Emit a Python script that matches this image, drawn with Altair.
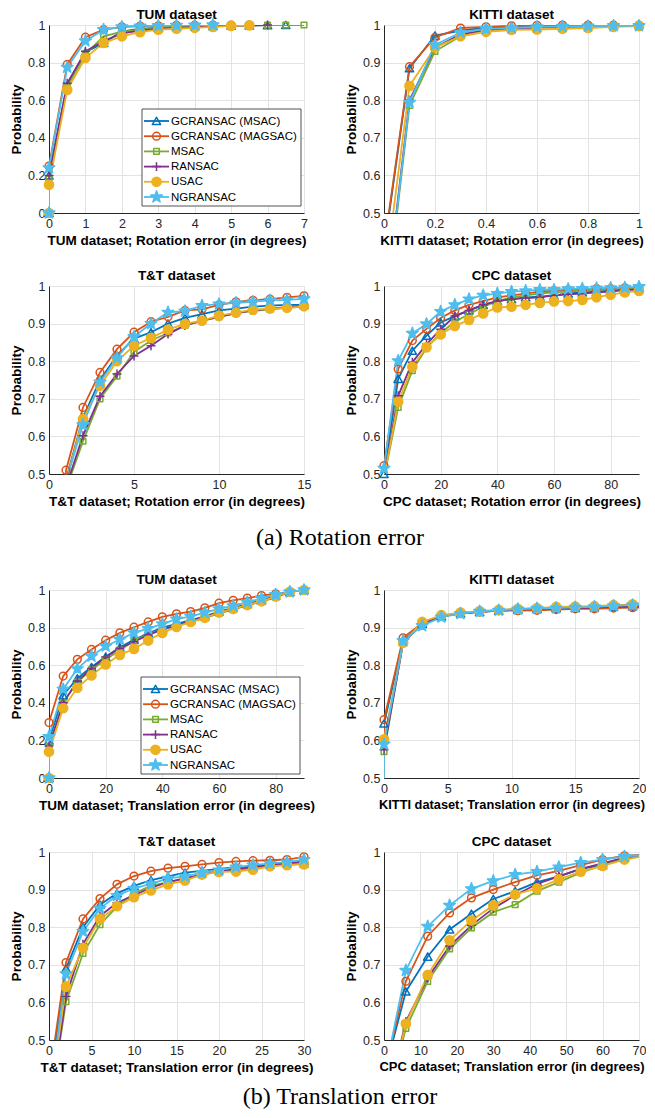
import math
import altair as alt
import pandas as pd

METHODS = ["GCRANSAC (MSAC)", "GCRANSAC (MAGSAC)", "MSAC", "RANSAC", "USAC", "NGRANSAC"]
COLORS = ["#0072BD", "#D95319", "#77AC30", "#7E2F8E", "#EDB120", "#4DBEEE"]
FILLS = ["transparent", "transparent", "transparent", "transparent", "#EDB120", "#4DBEEE"]

# ---------------- data ----------------
TUM_ROT_X = [0, 0, 0.5, 1, 1.5, 2, 2.5, 3, 3.5, 4, 4.5, 5, 5.5, 6, 6.5, 7]
TUM_ROT_GCMSAC = [0, 0.20, 0.68, 0.855, 0.905, 0.965, 0.98, 0.985, 0.99, 0.993, 0.995, 0.997, 0.998, 0.999, 1.0, None]
TUM_ROT_GCMAG = [0, 0.25, 0.79, 0.935, 0.975, 0.99, 0.994, 0.996, 0.998, 0.999, 1.0, 1.0, 1.0, None, None, None]
TUM_ROT_MSAC = [0, 0.18, 0.67, 0.845, 0.94, 0.965, 0.975, 0.985, 0.99, 0.993, 0.995, 0.997, 0.998, 0.999, 1.0, 1.0]
TUM_ROT_RANSAC = [0, 0.20, 0.69, 0.86, 0.915, 0.955, 0.97, 0.98, 0.985, 0.99, 0.993, 0.996, 0.998, 1.0, None, None]
TUM_ROT_USAC = [0, 0.15, 0.655, 0.825, 0.905, 0.94, 0.962, 0.975, 0.98, 0.985, 0.99, 0.995, 0.998, None, None, None]
TUM_ROT_NG = [0, 0.24, 0.775, 0.915, 0.975, 0.99, 0.994, 0.996, 0.998, 0.999, 1.0, None, None, None, None, None]

KITTI_ROT_X = [0, 0.1, 0.2, 0.3, 0.4, 0.5, 0.6, 0.7, 0.8, 0.9, 1.0]
KITTI_ROT_GCMSAC = [0.40, 0.885, 0.972, 0.985, 0.993, 0.996, 0.998, 0.999, 1.0, 1.0, 1.0]
KITTI_ROT_GCMAG = [0.41, 0.889, 0.967, 0.992, 0.995, 0.998, 0.999, 1.0, 1.0, 1.0, 1.0]
KITTI_ROT_MSAC = [0.20, 0.786, 0.93, 0.97, 0.985, 0.99, 0.993, 0.995, 0.996, 0.997, 0.998]
KITTI_ROT_RANSAC = [0.22, 0.80, 0.94, 0.975, 0.987, 0.99, 0.993, 0.995, 0.996, 0.997, 0.998]
KITTI_ROT_USAC = [0.31, 0.838, 0.94, 0.97, 0.982, 0.987, 0.988, 0.99, 0.992, 0.995, 0.997]
KITTI_ROT_NG = [0.21, 0.794, 0.947, 0.98, 0.99, 0.992, 0.995, 0.996, 0.997, 0.998, 0.998]

TT_ROT_X = [0, 1, 2, 3, 4, 5, 6, 7, 8, 9, 10, 11, 12, 13, 14, 15]
TT_ROT_GCMSAC = [0, 0.485, 0.65, 0.75, 0.815, 0.86, 0.877, 0.90, 0.915, 0.925, 0.935, 0.94, 0.945, 0.948, 0.95, 0.95]
TT_ROT_GCMAG = [0, 0.51, 0.677, 0.77, 0.832, 0.877, 0.905, 0.918, 0.935, 0.938, 0.95, 0.958, 0.962, 0.965, 0.97, 0.974]
TT_ROT_MSAC = [0, 0.46, 0.587, 0.70, 0.76, 0.825, 0.855, 0.875, 0.895, 0.907, 0.918, 0.928, 0.934, 0.938, 0.942, 0.945]
TT_ROT_RANSAC = [0, 0.465, 0.602, 0.707, 0.766, 0.814, 0.841, 0.872, 0.895, 0.908, 0.918, 0.928, 0.935, 0.94, 0.944, 0.947]
TT_ROT_USAC = [0, 0.48, 0.646, 0.735, 0.80, 0.841, 0.862, 0.884, 0.899, 0.908, 0.921, 0.929, 0.937, 0.94, 0.942, 0.946]
TT_ROT_NG = [0, 0.48, 0.631, 0.744, 0.809, 0.865, 0.90, 0.93, 0.933, 0.948, 0.952, 0.955, 0.958, 0.962, 0.963, 0.966]

CPC_ROT_X = [0, 5, 10, 15, 20, 25, 30, 35, 40, 45, 50, 55, 60, 65, 70, 75, 80, 85, 90]
CPC_ROT_GCMSAC = [0.50, 0.753, 0.828, 0.868, 0.903, 0.92, 0.935, 0.95, 0.96, 0.965, 0.97, 0.972, 0.975, 0.98, 0.983, 0.985, 0.988, 0.99, 0.993]
CPC_ROT_GCMAG = [0.522, 0.779, 0.855, 0.886, 0.915, 0.935, 0.95, 0.96, 0.97, 0.975, 0.98, 0.985, 0.988, 0.99, 0.99, 0.993, 0.993, 0.995, 0.995]
CPC_ROT_MSAC = [0.49, 0.677, 0.775, 0.835, 0.875, 0.905, 0.925, 0.945, 0.96, 0.97, 0.975, 0.98, 0.983, 0.985, 0.988, 0.99, 0.992, 0.994, 0.995]
CPC_ROT_RANSAC = [0.49, 0.708, 0.797, 0.845, 0.885, 0.92, 0.935, 0.95, 0.96, 0.965, 0.968, 0.97, 0.975, 0.978, 0.98, 0.983, 0.985, 0.99, 0.99]
CPC_ROT_USAC = [0.49, 0.692, 0.785, 0.837, 0.871, 0.894, 0.91, 0.927, 0.943, 0.945, 0.95, 0.955, 0.959, 0.96, 0.963, 0.97, 0.977, 0.983, 0.987]
CPC_ROT_NG = [0.515, 0.801, 0.874, 0.899, 0.932, 0.95, 0.965, 0.975, 0.98, 0.985, 0.987, 0.99, 0.99, 0.992, 0.993, 0.994, 0.995, 0.996, 0.998]

TUM_TR_X = [0, 0, 5, 10, 15, 20, 25, 30, 35, 40, 45, 50, 55, 60, 65, 70, 75, 80, 85, 90]
TUM_TR_GCMSAC = [0, 0.20, 0.44, 0.53, 0.59, 0.645, 0.695, 0.735, 0.77, 0.80, 0.82, 0.84, 0.86, 0.885, 0.905, 0.925, 0.945, 0.97, 0.99, 1.0]
TUM_TR_GCMAG = [0, 0.295, 0.542, 0.631, 0.684, 0.733, 0.772, 0.802, 0.83, 0.857, 0.873, 0.885, 0.905, 0.93, 0.945, 0.957, 0.97, 0.98, 0.99, 1.0]
TUM_TR_MSAC = [0, 0.17, 0.40, 0.51, 0.575, 0.63, 0.68, 0.73, 0.765, 0.79, 0.81, 0.83, 0.85, 0.875, 0.895, 0.92, 0.94, 0.96, 0.99, 1.0]
TUM_TR_RANSAC = [0, 0.17, 0.40, 0.516, 0.583, 0.643, 0.69, 0.725, 0.76, 0.79, 0.81, 0.835, 0.855, 0.88, 0.90, 0.92, 0.94, 0.965, 0.99, 1.0]
TUM_TR_USAC = [0, 0.14, 0.371, 0.48, 0.546, 0.604, 0.655, 0.687, 0.731, 0.772, 0.804, 0.83, 0.852, 0.88, 0.90, 0.92, 0.94, 0.965, 0.99, 1.0]
TUM_TR_NG = [0, 0.22, 0.472, 0.581, 0.648, 0.701, 0.737, 0.772, 0.795, 0.82, 0.845, 0.86, 0.88, 0.90, 0.915, 0.935, 0.955, 0.975, 0.99, 1.0]

KITTI_TR_X = [0, 0, 1.5, 3, 4.5, 6, 7.5, 9, 10.5, 12, 13.5, 15, 16.5, 18, 19.5, 21]
KITTI_TR_GCMSAC = [0, 0.645, 0.865, 0.91, 0.93, 0.938, 0.942, 0.945, 0.948, 0.95, 0.952, 0.953, 0.954, 0.956, 0.957, 0.958]
KITTI_TR_GCMAG = [0, 0.655, 0.873, 0.912, 0.93, 0.937, 0.942, 0.945, 0.945, 0.946, 0.948, 0.95, 0.95, 0.952, 0.953, 0.954]
KITTI_TR_MSAC = [0, 0.57, 0.86, 0.91, 0.93, 0.938, 0.943, 0.946, 0.949, 0.951, 0.953, 0.955, 0.956, 0.958, 0.96, 0.961]
KITTI_TR_RANSAC = [0, 0.575, 0.86, 0.91, 0.93, 0.938, 0.942, 0.945, 0.948, 0.95, 0.951, 0.952, 0.953, 0.955, 0.956, 0.957]
KITTI_TR_USAC = [0, 0.603, 0.86, 0.915, 0.933, 0.94, 0.944, 0.947, 0.95, 0.952, 0.955, 0.956, 0.957, 0.96, 0.962, 0.963]
KITTI_TR_NG = [0, 0.59, 0.865, 0.905, 0.928, 0.937, 0.943, 0.946, 0.949, 0.951, 0.952, 0.954, 0.955, 0.958, 0.96, 0.961]

TT_TR_X = [0, 2, 4, 6, 8, 10, 12, 14, 16, 18, 20, 22, 24, 26, 28, 30]
TT_TR_GCMSAC = [0.36, 0.69, 0.80, 0.86, 0.89, 0.91, 0.925, 0.935, 0.945, 0.95, 0.955, 0.96, 0.962, 0.967, 0.97, 0.97]
TT_TR_GCMAG = [0.39, 0.706, 0.822, 0.876, 0.914, 0.936, 0.949, 0.957, 0.962, 0.967, 0.972, 0.975, 0.977, 0.978, 0.98, 0.987]
TT_TR_MSAC = [0.305, 0.602, 0.73, 0.807, 0.855, 0.89, 0.91, 0.92, 0.93, 0.94, 0.948, 0.952, 0.957, 0.962, 0.967, 0.972]
TT_TR_RANSAC = [0.31, 0.616, 0.755, 0.83, 0.865, 0.885, 0.905, 0.92, 0.93, 0.94, 0.95, 0.955, 0.96, 0.965, 0.97, 0.975]
TT_TR_USAC = [0.33, 0.642, 0.745, 0.822, 0.856, 0.88, 0.898, 0.914, 0.924, 0.94, 0.947, 0.948, 0.953, 0.962, 0.965, 0.967]
TT_TR_NG = [0.34, 0.676, 0.789, 0.85, 0.884, 0.903, 0.915, 0.93, 0.935, 0.945, 0.952, 0.96, 0.965, 0.97, 0.973, 0.98]

CPC_TR_X = [0, 6, 12, 18, 24, 30, 36, 42, 48, 54, 60, 66, 72]
CPC_TR_GCMSAC = [0.408, 0.629, 0.722, 0.794, 0.836, 0.875, 0.896, 0.92, 0.935, 0.955, 0.965, 0.985, 0.99]
CPC_TR_GCMAG = [0.405, 0.656, 0.776, 0.838, 0.878, 0.90, 0.92, 0.938, 0.95, 0.965, 0.98, 0.99, 0.993]
CPC_TR_MSAC = [0.30, 0.531, 0.656, 0.742, 0.798, 0.84, 0.86, 0.896, 0.92, 0.945, 0.965, 0.985, 0.99]
CPC_TR_RANSAC = [0.305, 0.549, 0.665, 0.75, 0.805, 0.85, 0.885, 0.915, 0.935, 0.955, 0.97, 0.985, 0.99]
CPC_TR_USAC = [0.30, 0.543, 0.673, 0.765, 0.818, 0.858, 0.887, 0.903, 0.927, 0.948, 0.963, 0.98, 0.99]
CPC_TR_NG = [0.40, 0.685, 0.802, 0.858, 0.902, 0.923, 0.94, 0.948, 0.96, 0.972, 0.98, 0.988, 0.993]

CAPTION_A = "(a) Rotation error"
CAPTION_B = "(b) Translation error"

# ---------------- styling helpers ----------------
FONT = "Liberation Sans"


def star_path(ro, ri):
    pts = []
    for k in range(10):
        a = -math.pi / 2 + k * math.pi / 5
        r = ro if k % 2 == 0 else ri
        pts.append(f"{r * math.cos(a):.3f},{r * math.sin(a):.3f}")
    return "M" + "L".join(pts) + "Z"


PLUS = "M-1,0L1,0M0,-1L0,1"
MARKERS = [("triangle-up", 70), ("circle", 60), ("square", 32), (PLUS, 80),
           ("circle", 85), (star_path(1, 0.4), 150)]
ONE = pd.DataFrame({"k": [0]})


def make_df(xs, series):
    rows = []
    for m, ys in zip(METHODS, series):
        for i, (xv, yv) in enumerate(zip(xs, ys)):
            if yv is None:
                continue
            rows.append({"method": m, "idx": i, "x": xv, "y": yv})
    return pd.DataFrame(rows)


def legend_layers(lx, ly):
    out = [alt.Chart(ONE).mark_rect(fill="white", stroke="#262626", strokeWidth=0.8).encode(
        x=alt.value(lx), x2=alt.value(lx + 159), y=alt.value(ly), y2=alt.value(ly + 97))]
    for i, (m, c, f, (shp, sz)) in enumerate(zip(METHODS, COLORS, FILLS, MARKERS)):
        yr = ly + 12 + i * 15.2
        out.append(alt.Chart(ONE).mark_rule(color=c, strokeWidth=1.8).encode(
            x=alt.value(lx + 2), x2=alt.value(lx + 27), y=alt.value(yr)))
        out.append(alt.Chart(ONE).mark_point(shape=shp, size=sz, stroke=c, fill=f, strokeJoin="round",
                                             strokeWidth=1.5, opacity=1).encode(
            x=alt.value(lx + 14.5), y=alt.value(yr)))
        out.append(alt.Chart(ONE).mark_text(align="left", baseline="middle", font=FONT,
                                            fontSize=11.5, color="#000000").encode(
            x=alt.value(lx + 29), y=alt.value(yr + 0.5), text=alt.value(m)))
    return out


def panel(title, xtitle, xs, series, xdom, xticks, xfmt, ydom, yticks, legend_pos=None, xt_size=13.5):
    df = make_df(xs, series)
    base = alt.Chart(df)
    x = alt.X("x:Q", scale=alt.Scale(domain=xdom, nice=False, zero=False),
              axis=alt.Axis(values=xticks, format=xfmt, title=xtitle, titleFontSize=xt_size))
    y = alt.Y("y:Q", scale=alt.Scale(domain=ydom, nice=False, zero=False),
              axis=alt.Axis(values=yticks, format=".1~f", title="Probability"))
    lines = base.mark_line(strokeWidth=1.8, clip=True).encode(
        x=x, y=y,
        color=alt.Color("method:N", scale=alt.Scale(domain=METHODS, range=COLORS), legend=None),
        order=alt.Order("idx:Q"),
    )
    layers = [lines]
    for m, c, f, (shp, sz) in zip(METHODS, COLORS, FILLS, MARKERS):
        pts = base.transform_filter(
            (alt.datum.method == m) & (alt.datum.y >= ydom[0]) & (alt.datum.x <= xdom[1])
        ).mark_point(shape=shp, size=sz, stroke=c, fill=f, strokeWidth=1.5, strokeJoin="round",
                     opacity=1).encode(x=x, y=y)
        layers.append(pts)
    if legend_pos is not None:
        layers += legend_layers(*legend_pos)
    layers.append(alt.Chart(ONE).mark_text(
        font=FONT, fontSize=13.5, fontWeight="bold", color="#000000", align="center", baseline="alphabetic"
    ).encode(x=alt.value(127.5), y=alt.value(-6), text=alt.value(title)))
    return alt.layer(*layers).properties(width=255, height=188)


def spacer(h):
    return alt.Chart(ONE).mark_text().encode(text=alt.value("")).properties(width=255, height=h)


def caption(txt, h, yv):
    return alt.Chart(ONE).mark_text(
        font="Liberation Serif", fontSize=24, color="black", align="center", baseline="middle"
    ).encode(text=alt.value(txt), x=alt.value(291), y=alt.value(yv)).properties(width=255, height=h)


Y01 = [0, 0.2, 0.4, 0.6, 0.8, 1]
Y51 = [0.5, 0.6, 0.7, 0.8, 0.9, 1]

p1 = panel("TUM dataset", "TUM dataset; Rotation error (in degrees)", TUM_ROT_X,
           [TUM_ROT_GCMSAC, TUM_ROT_GCMAG, TUM_ROT_MSAC, TUM_ROT_RANSAC, TUM_ROT_USAC, TUM_ROT_NG],
           [0, 7], list(range(8)), "d", [0, 1], Y01, legend_pos=(93, 84))
p2 = panel("KITTI dataset", "KITTI dataset; Rotation error (in degrees)", KITTI_ROT_X,
           [KITTI_ROT_GCMSAC, KITTI_ROT_GCMAG, KITTI_ROT_MSAC, KITTI_ROT_RANSAC, KITTI_ROT_USAC, KITTI_ROT_NG],
           [0, 1], [0, 0.2, 0.4, 0.6, 0.8, 1], ".1~f", [0.5, 1], Y51)
p3 = panel("T&T dataset", "T&T dataset; Rotation error (in degrees)", TT_ROT_X,
           [TT_ROT_GCMSAC, TT_ROT_GCMAG, TT_ROT_MSAC, TT_ROT_RANSAC, TT_ROT_USAC, TT_ROT_NG],
           [0, 15], [0, 5, 10, 15], "d", [0.5, 1], Y51)
p4 = panel("CPC dataset", "CPC dataset; Rotation error (in degrees)", CPC_ROT_X,
           [CPC_ROT_GCMSAC, CPC_ROT_GCMAG, CPC_ROT_MSAC, CPC_ROT_RANSAC, CPC_ROT_USAC, CPC_ROT_NG],
           [0, 90], [0, 20, 40, 60, 80], "d", [0.5, 1], Y51)
p5 = panel("TUM dataset", "TUM dataset; Translation error (in degrees)", TUM_TR_X,
           [TUM_TR_GCMSAC, TUM_TR_GCMAG, TUM_TR_MSAC, TUM_TR_RANSAC, TUM_TR_USAC, TUM_TR_NG],
           [0, 90], [0, 20, 40, 60, 80], "d", [0, 1], Y01, legend_pos=(92, 87))
p6 = panel("KITTI dataset", "KITTI dataset; Translation error (in degrees)", KITTI_TR_X,
           [KITTI_TR_GCMSAC, KITTI_TR_GCMAG, KITTI_TR_MSAC, KITTI_TR_RANSAC, KITTI_TR_USAC, KITTI_TR_NG],
           [0, 20], [0, 5, 10, 15, 20], "d", [0.5, 1], Y51, xt_size=12.8)
p7 = panel("T&T dataset", "T&T dataset; Translation error (in degrees)", TT_TR_X,
           [TT_TR_GCMSAC, TT_TR_GCMAG, TT_TR_MSAC, TT_TR_RANSAC, TT_TR_USAC, TT_TR_NG],
           [0, 30], [0, 5, 10, 15, 20, 25, 30], "d", [0.5, 1], Y51)
p8 = panel("CPC dataset", "CPC dataset; Translation error (in degrees)", CPC_TR_X,
           [CPC_TR_GCMSAC, CPC_TR_GCMAG, CPC_TR_MSAC, CPC_TR_RANSAC, CPC_TR_USAC, CPC_TR_NG],
           [0, 70], [0, 10, 20, 30, 40, 50, 60, 70], "d", [0.5, 1], Y51, xt_size=13)

items = [
    p1, p2,
    spacer(33), spacer(33),
    p3, p4,
    caption(CAPTION_A, 76, 44), spacer(76),
    p5, p6,
    spacer(34), spacer(34),
    p7, p8,
    caption(CAPTION_B, 30, 37), spacer(30),
]

chart = alt.concat(
    *items, columns=2, spacing={"row": 20, "column": 80}, bounds="flush", align="each"
).resolve_scale(
    color="independent"
).properties(
    padding={"left": 1, "top": 0, "right": 0, "bottom": 0}
).configure_axis(
    labelFont=FONT, labelFontSize=12.5, labelColor="#262626",
    titleFont=FONT, titleFontSize=13.5, titleFontWeight="bold", titleColor="#000000",
    domainColor="#262626", gridColor="#e3e3e3", gridWidth=1, ticks=False,
    labelFlush=False, labelOverlap=False, labelPadding=4, titlePadding=4,
).configure_axisY(titlePadding=4).configure_view(stroke=None)

chart.save("out.html", embed_options={"renderer": "svg", "actions": False})
